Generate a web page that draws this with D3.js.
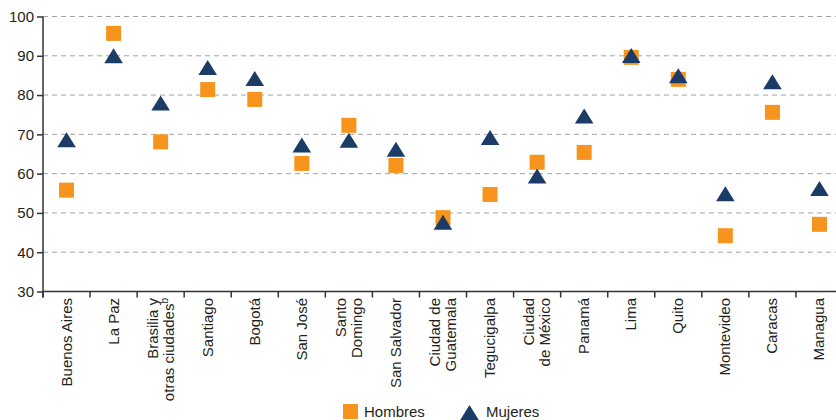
<!DOCTYPE html>
<html>
<head>
<meta charset="utf-8">
<script src="https://cdn.jsdelivr.net/npm/d3@7"></script>
<style>
  html, body { margin: 0; padding: 0; background: #fff; }
  svg { display: block; font-family: "Liberation Sans", Arial, sans-serif; }
</style>
</head>
<body>
<svg id="chart" width="836" height="420"></svg>
<script>
// ciudades (cada una es una lista de lineas)
var cities = [
	["Buenos Aires"], ["La Paz"], ["Brasilia y", "otras ciudades"], ["Santiago"],
	["Bogotá"], ["San José"], ["Santo", "Domingo"], ["San Salvador"],
	["Ciudad de", "Guatemala"], ["Tegucigalpa"], ["Ciudad", "de México"], ["Panamá"],
	["Lima"], ["Quito"], ["Montevideo"], ["Caracas"], ["Managua"]
];
var hombres = [55.8, 95.7, 68.1, 81.4, 78.9, 62.6, 72.3, 62.1, 48.8, 54.7, 62.9, 65.4, 89.6, 84.0, 44.2, 75.6, 47.1];
var mujeres = [68.6, 90.0, 78.0, 87.0, 84.2, 67.3, 68.5, 66.2, 47.6, 69.2, 59.4, 74.7, 90.1, 84.9, 54.9, 83.4, 56.2];
var yTicks = [30, 40, 50, 60, 70, 80, 90, 100];

var orange = "#f7941d";
var navy = "#1a3c66";
var textColor = "#231f20";

var svg = d3.select("#chart");

var keys = cities.map(function(d, i) { return i; });

var x = d3.scaleBand()
	.domain(keys)
	.range([43, 843])
	.padding(0);

var y = d3.scaleLinear()
	.domain([30, 100])
	.range([291.5, 16.5]);

// lineas de cuadricula
svg.append("g")
	.selectAll("line")
	.data(yTicks.slice(1))
	.enter()
	.append("line")
		.attr("x1", 43)
		.attr("x2", 836)
		.attr("y1", function(d) { return y(d); })
		.attr("y2", function(d) { return y(d); })
		.attr("stroke", "#a3a3a3")
		.attr("stroke-width", 1)
		.attr("stroke-dasharray", "5,4");

// eje y
var yAxis = svg.append("g")
	.attr("transform", "translate(43,0)")
	.call(d3.axisLeft(y).tickValues(yTicks).tickSize(6).tickPadding(3).tickSizeOuter(0));
yAxis.select(".domain").remove();
yAxis.selectAll(".tick line").attr("stroke", "#333").attr("stroke-width", 1.5);
yAxis.selectAll("text")
	.attr("font-size", 15)
	.attr("font-family", "Liberation Sans, Arial, sans-serif")
	.attr("fill", textColor);

svg.append("line")
	.attr("x1", 43).attr("x2", 43)
	.attr("y1", y(100)).attr("y2", y(30) + 6)
	.attr("stroke", "#333").attr("stroke-width", 1.5);

// eje x
svg.append("line")
	.attr("x1", 43).attr("x2", 836)
	.attr("y1", y(30)).attr("y2", y(30))
	.attr("stroke", "#333").attr("stroke-width", 1.5);

svg.append("g")
	.selectAll("line")
	.data(keys)
	.enter()
	.append("line")
		.attr("x1", function(d) { return x(d); })
		.attr("x2", function(d) { return x(d); })
		.attr("y1", y(30))
		.attr("y2", y(30) + 6)
		.attr("stroke", "#333")
		.attr("stroke-width", 1.5);

// etiquetas rotadas
var labels = svg.append("g")
	.selectAll("text")
	.data(cities)
	.enter()
	.append("text")
		.attr("transform", function(d, i) {
			return "translate(" + (x(i) + x.bandwidth() / 2) + ",298) rotate(-90)";
		})
		.attr("text-anchor", "end")
		.attr("font-size", 15)
		.attr("fill", textColor);

labels.each(function(d) {
	var t = d3.select(this);
	var n = d.length;
	d.forEach(function(line, j) {
		var off = 5 + (j - (n - 1) / 2) * 16;
		var ts = t.append("tspan")
			.attr("x", 0)
			.attr("y", off)
			.text(line);
		if (line === "otras ciudades") {
			t.append("tspan")
				.attr("font-size", 10)
				.attr("dy", -6)
				.text("b");
		}
	});
});

// hombres (cuadrados)
var sq = 15;
svg.append("g")
	.selectAll("rect")
	.data(hombres)
	.enter()
	.append("rect")
		.attr("x", function(d, i) { return x(i) + x.bandwidth() / 2 - sq / 2; })
		.attr("y", function(d) { return y(d) - sq / 2; })
		.attr("width", sq)
		.attr("height", sq)
		.attr("fill", orange);

// mujeres (triangulos)
var tri = "M0,-7.5L9.3,7.5L-9.3,7.5Z";
svg.append("g")
	.selectAll("path")
	.data(mujeres)
	.enter()
	.append("path")
		.attr("d", tri)
		.attr("transform", function(d, i) {
			return "translate(" + (x(i) + x.bandwidth() / 2) + "," + y(d) + ")";
		})
		.attr("fill", navy);

// leyenda
var legend = svg.append("g");
legend.append("rect")
	.attr("x", 343).attr("y", 404)
	.attr("width", 15).attr("height", 15)
	.attr("fill", orange);
legend.append("text")
	.attr("x", 364).attr("y", 417)
	.attr("font-size", 15)
	.attr("fill", textColor)
	.text("Hombres");
legend.append("path")
	.attr("d", tri)
	.attr("transform", "translate(469.5,412.5)")
	.attr("fill", navy);
legend.append("text")
	.attr("x", 486).attr("y", 417)
	.attr("font-size", 15)
	.attr("fill", textColor)
	.text("Mujeres");
</script>
</body>
</html>
